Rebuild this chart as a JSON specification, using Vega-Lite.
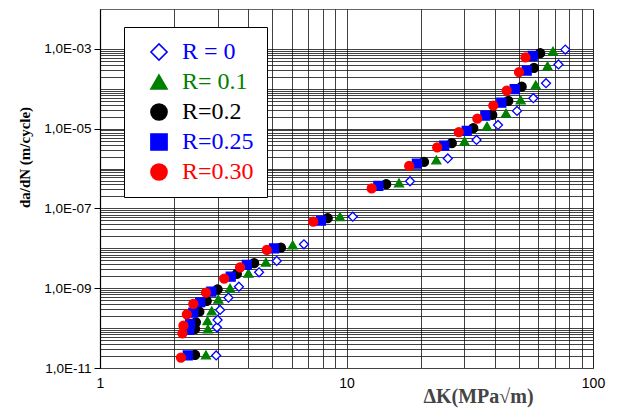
{
  "$schema": "https://vega.github.io/schema/vega-lite/v6.json",
  "autosize": "none",
  "width": 493,
  "height": 359,
  "padding": {"left": 100, "top": 9, "right": 31, "bottom": 42},
  "background": "white",
  "config": {"view": {"stroke": "#666", "strokeWidth": 1}},
  "data": {"values": [
    {"R": "R = 0", "dK": 2.96, "dadN": 2.06e-11},
    {"R": "R = 0", "dK": 2.98, "dadN": 1.05e-10},
    {"R": "R = 0", "dK": 3.00, "dadN": 1.60e-10},
    {"R": "R = 0", "dK": 3.07, "dadN": 2.85e-10},
    {"R": "R = 0", "dK": 3.32, "dadN": 5.79e-10},
    {"R": "R = 0", "dK": 3.66, "dadN": 1.09e-9},
    {"R": "R = 0", "dK": 4.42, "dadN": 2.51e-9},
    {"R": "R = 0", "dK": 5.21, "dadN": 4.82e-9},
    {"R": "R = 0", "dK": 6.72, "dadN": 1.26e-8},
    {"R": "R = 0", "dK": 10.6, "dadN": 6.22e-8},
    {"R": "R = 0", "dK": 18.1, "dadN": 4.81e-7},
    {"R": "R = 0", "dK": 25.76, "dadN": 1.79e-6},
    {"R": "R = 0", "dK": 33.69, "dadN": 5.22e-6},
    {"R": "R = 0", "dK": 41.18, "dadN": 1.24e-5},
    {"R": "R = 0", "dK": 49.18, "dadN": 2.79e-5},
    {"R": "R = 0", "dK": 57.26, "dadN": 5.81e-5},
    {"R": "R = 0", "dK": 64.48, "dadN": 1.38e-4},
    {"R": "R = 0", "dK": 72.44, "dadN": 4.08e-4},
    {"R": "R = 0", "dK": 77.19, "dadN": 9.6e-4},
    {"R": "R= 0.1", "dK": 2.69, "dadN": 2.12e-11},
    {"R": "R= 0.1", "dK": 2.74, "dadN": 9.51e-11},
    {"R": "R= 0.1", "dK": 2.73, "dadN": 1.54e-10},
    {"R": "R= 0.1", "dK": 2.84, "dadN": 2.69e-10},
    {"R": "R= 0.1", "dK": 3.02, "dadN": 5.28e-10},
    {"R": "R= 0.1", "dK": 3.37, "dadN": 9.97e-10},
    {"R": "R= 0.1", "dK": 4.00, "dadN": 2.37e-9},
    {"R": "R= 0.1", "dK": 4.71, "dadN": 4.48e-9},
    {"R": "R= 0.1", "dK": 6.05, "dadN": 1.22e-8},
    {"R": "R= 0.1", "dK": 9.41, "dadN": 6.22e-8},
    {"R": "R= 0.1", "dK": 16.33, "dadN": 4.36e-7},
    {"R": "R= 0.1", "dK": 23.14, "dadN": 1.64e-6},
    {"R": "R= 0.1", "dK": 30.11, "dadN": 4.84e-6},
    {"R": "R= 0.1", "dK": 37.15, "dadN": 1.15e-5},
    {"R": "R= 0.1", "dK": 44.37, "dadN": 2.44e-5},
    {"R": "R= 0.1", "dK": 50.9, "dadN": 5.26e-5},
    {"R": "R= 0.1", "dK": 58.56, "dadN": 1.25e-4},
    {"R": "R= 0.1", "dK": 65.4, "dadN": 3.75e-4},
    {"R": "R= 0.1", "dK": 68.81, "dadN": 8.75e-4},
    {"R": "R=0.2", "dK": 2.43, "dadN": 2.12e-11},
    {"R": "R=0.2", "dK": 2.43, "dadN": 9.51e-11},
    {"R": "R=0.2", "dK": 2.45, "dadN": 1.40e-10},
    {"R": "R=0.2", "dK": 2.53, "dadN": 2.58e-10},
    {"R": "R=0.2", "dK": 2.71, "dadN": 4.79e-10},
    {"R": "R=0.2", "dK": 3.00, "dadN": 9.42e-10},
    {"R": "R=0.2", "dK": 3.59, "dadN": 2.28e-9},
    {"R": "R=0.2", "dK": 4.22, "dadN": 4.23e-9},
    {"R": "R=0.2", "dK": 5.42, "dadN": 1.04e-8},
    {"R": "R=0.2", "dK": 8.39, "dadN": 5.68e-8},
    {"R": "R=0.2", "dK": 14.49, "dadN": 4.05e-7},
    {"R": "R=0.2", "dK": 20.63, "dadN": 1.47e-6},
    {"R": "R=0.2", "dK": 26.74, "dadN": 4.32e-6},
    {"R": "R=0.2", "dK": 32.69, "dadN": 1.03e-5},
    {"R": "R=0.2", "dK": 39.03, "dadN": 2.21e-5},
    {"R": "R=0.2", "dK": 45.34, "dadN": 4.97e-5},
    {"R": "R=0.2", "dK": 51.37, "dadN": 1.13e-4},
    {"R": "R=0.2", "dK": 57.62, "dadN": 3.34e-4},
    {"R": "R=0.2", "dK": 61.07, "dadN": 7.8e-4},
    {"R": "R=0.25", "dK": 2.27, "dadN": 2.06e-11},
    {"R": "R=0.25", "dK": 2.30, "dadN": 8.98e-11},
    {"R": "R=0.25", "dK": 2.32, "dadN": 1.27e-10},
    {"R": "R=0.25", "dK": 2.39, "dadN": 2.44e-10},
    {"R": "R=0.25", "dK": 2.55, "dadN": 4.45e-10},
    {"R": "R=0.25", "dK": 2.83, "dadN": 8.20e-10},
    {"R": "R=0.25", "dK": 3.39, "dadN": 1.95e-9},
    {"R": "R=0.25", "dK": 3.94, "dadN": 3.83e-9},
    {"R": "R=0.25", "dK": 5.08, "dadN": 1.0e-8},
    {"R": "R=0.25", "dK": 7.88, "dadN": 4.94e-8},
    {"R": "R=0.25", "dK": 13.46, "dadN": 3.66e-7},
    {"R": "R=0.25", "dK": 19.29, "dadN": 1.33e-6},
    {"R": "R=0.25", "dK": 24.91, "dadN": 3.76e-6},
    {"R": "R=0.25", "dK": 30.73, "dadN": 8.79e-6},
    {"R": "R=0.25", "dK": 36.57, "dadN": 2.11e-5},
    {"R": "R=0.25", "dK": 42.46, "dadN": 4.5e-5},
    {"R": "R=0.25", "dK": 48.12, "dadN": 9.75e-5},
    {"R": "R=0.25", "dK": 53.83, "dadN": 2.86e-4},
    {"R": "R=0.25", "dK": 56.93, "dadN": 6.67e-4},
    {"R": "R=0.30", "dK": 2.13, "dadN": 1.83e-11},
    {"R": "R=0.30", "dK": 2.16, "dadN": 7.41e-11},
    {"R": "R=0.30", "dK": 2.18, "dadN": 1.15e-10},
    {"R": "R=0.30", "dK": 2.25, "dadN": 2.22e-10},
    {"R": "R=0.30", "dK": 2.39, "dadN": 4.03e-10},
    {"R": "R=0.30", "dK": 2.69, "dadN": 7.73e-10},
    {"R": "R=0.30", "dK": 3.19, "dadN": 1.74e-9},
    {"R": "R=0.30", "dK": 3.70, "dadN": 3.35e-9},
    {"R": "R=0.30", "dK": 4.75, "dadN": 9.10e-9},
    {"R": "R=0.30", "dK": 7.33, "dadN": 4.67e-8},
    {"R": "R=0.30", "dK": 12.65, "dadN": 3.18e-7},
    {"R": "R=0.30", "dK": 17.96, "dadN": 1.16e-6},
    {"R": "R=0.30", "dK": 23.33, "dadN": 3.39e-6},
    {"R": "R=0.30", "dK": 28.55, "dadN": 8.15e-6},
    {"R": "R=0.30", "dK": 33.94, "dadN": 1.78e-5},
    {"R": "R=0.30", "dK": 39.39, "dadN": 3.79e-5},
    {"R": "R=0.30", "dK": 44.66, "dadN": 9.0e-5},
    {"R": "R=0.30", "dK": 50.1, "dadN": 2.61e-4},
    {"R": "R=0.30", "dK": 53.23, "dadN": 6.12e-4}
  ]},
  "mark": {"type": "point", "filled": true, "size": 80, "strokeWidth": 1.3, "opacity": 1},
  "encoding": {
    "x": {
      "field": "dK", "type": "quantitative",
      "scale": {"type": "log", "domain": [1, 100], "nice": false},
      "axis": {
        "values": [1,2,3,4,5,6,7,8,9,10,20,30,40,50,60,70,80,90,100],
        "labelExpr": "(datum.value == 1 || datum.value == 10 || datum.value == 100) ? datum.label : ''",
        "labelOverlap": false,
        "labelFlush": false,
        "ticks": false,
        "grid": true,
        "gridColor": "#111",
        "gridWidth": 0.8,
        "domainColor": "#444",
        "domainWidth": 1.2,
        "labelFont": "Liberation Sans",
        "labelFontSize": 14,
        "labelColor": "black",
        "labelPadding": 8,
        "title": "ΔK(MPa√m)",
        "titleFont": "Liberation Serif",
        "titleFontWeight": "bold",
        "titleFontSize": 20,
        "titleColor": "#444",
        "titleX": 378,
        "titleY": 28,
        "titleAlign": "center",
        "titleBaseline": "middle"
      }
    },
    "y": {
      "field": "dadN", "type": "quantitative",
      "scale": {"type": "log", "domain": [1e-11, 0.01], "nice": false},
      "axis": {
        "values": [1e-11,2e-11,3e-11,4e-11,5e-11,6e-11,7e-11,8e-11,9e-11,1e-10,2e-10,3e-10,4e-10,5e-10,6e-10,7e-10,8e-10,9e-10,1e-9,2e-9,3e-9,4e-9,5e-9,6e-9,7e-9,8e-9,9e-9,1e-8,2e-8,3e-8,4e-8,5e-8,6e-8,7e-8,8e-8,9e-8,1e-7,2e-7,3e-7,4e-7,5e-7,6e-7,7e-7,8e-7,9e-7,1e-6,2e-6,3e-6,4e-6,5e-6,6e-6,7e-6,8e-6,9e-6,1e-5,2e-5,3e-5,4e-5,5e-5,6e-5,7e-5,8e-5,9e-5,1e-4,2e-4,3e-4,4e-4,5e-4,6e-4,7e-4,8e-4,9e-4,1e-3],
        "labelExpr": "datum.value == 1e-11 ? '1,0E-11' : datum.value == 1e-9 ? '1,0E-09' : datum.value == 1e-7 ? '1,0E-07' : datum.value == 1e-5 ? '1,0E-05' : datum.value == 1e-3 ? '1,0E-03' : ''",
        "labelOverlap": false,
        "labelFont": "Liberation Sans",
        "labelFontSize": 13.5,
        "labelColor": "black",
        "labelPadding": 3,
        "tickSize": 6,
        "tickColor": {"condition": {"test": "datum.value == 1e-11 || datum.value == 1e-9 || datum.value == 1e-7 || datum.value == 1e-5 || datum.value == 1e-3", "value": "black"}, "value": "transparent"},
        "grid": true,
        "gridColor": "#111",
        "gridWidth": 0.8,
        "domainColor": "black",
        "domainWidth": 1.2,
        "title": "da/dN (m/cycle)",
        "titleFont": "Liberation Serif",
        "titleFontWeight": "bold",
        "titleFontSize": 15,
        "titleColor": "black",
        "titleAngle": -90,
        "titleX": -76,
        "titleY": 148,
        "titleAlign": "center",
        "titleBaseline": "middle"
      }
    },
    "shape": {
      "field": "R", "type": "nominal",
      "scale": {"domain": ["R = 0", "R= 0.1", "R=0.2", "R=0.25", "R=0.30"], "range": ["diamond", "triangle-up", "circle", "square", "circle"]},
      "legend": {
        "orient": "none",
        "legendX": 24,
        "legendY": 18,
        "title": null,
        "padding": 13,
        "strokeColor": "black",
        "fillColor": "white",
        "symbolSize": 260,
        "symbolStrokeWidth": 1.6,
        "symbolOffset": 10,
        "labelOffset": 11,
        "labelFont": "Liberation Serif",
        "labelFontSize": 24,
        "labelLimit": 300,
        "rowPadding": 6,
        "labelExpr": "datum.value == 'R=0.2' ? '\u2002\u2002R=0.2' : (datum.value == 'R=0.25' || datum.value == 'R=0.30') ? '\u2002\u2002' + datum.label + '\u2002' : datum.label",
        "labelColor": {"expr": "datum.value == 'R= 0.1' ? '#008000' : datum.value == 'R=0.2' ? 'black' : datum.value == 'R=0.30' ? '#FF0000' : '#0000FF'"}
      }
    },
    "fill": {
      "field": "R", "type": "nominal",
      "scale": {"domain": ["R = 0", "R= 0.1", "R=0.2", "R=0.25", "R=0.30"], "range": ["white", "#008000", "black", "#0000FF", "#FF0000"]},
      "legend": null
    },
    "stroke": {
      "field": "R", "type": "nominal",
      "scale": {"domain": ["R = 0", "R= 0.1", "R=0.2", "R=0.25", "R=0.30"], "range": ["#0000FF", "#008000", "black", "#0000FF", "#FF0000"]},
      "legend": null
    }
  }
}
